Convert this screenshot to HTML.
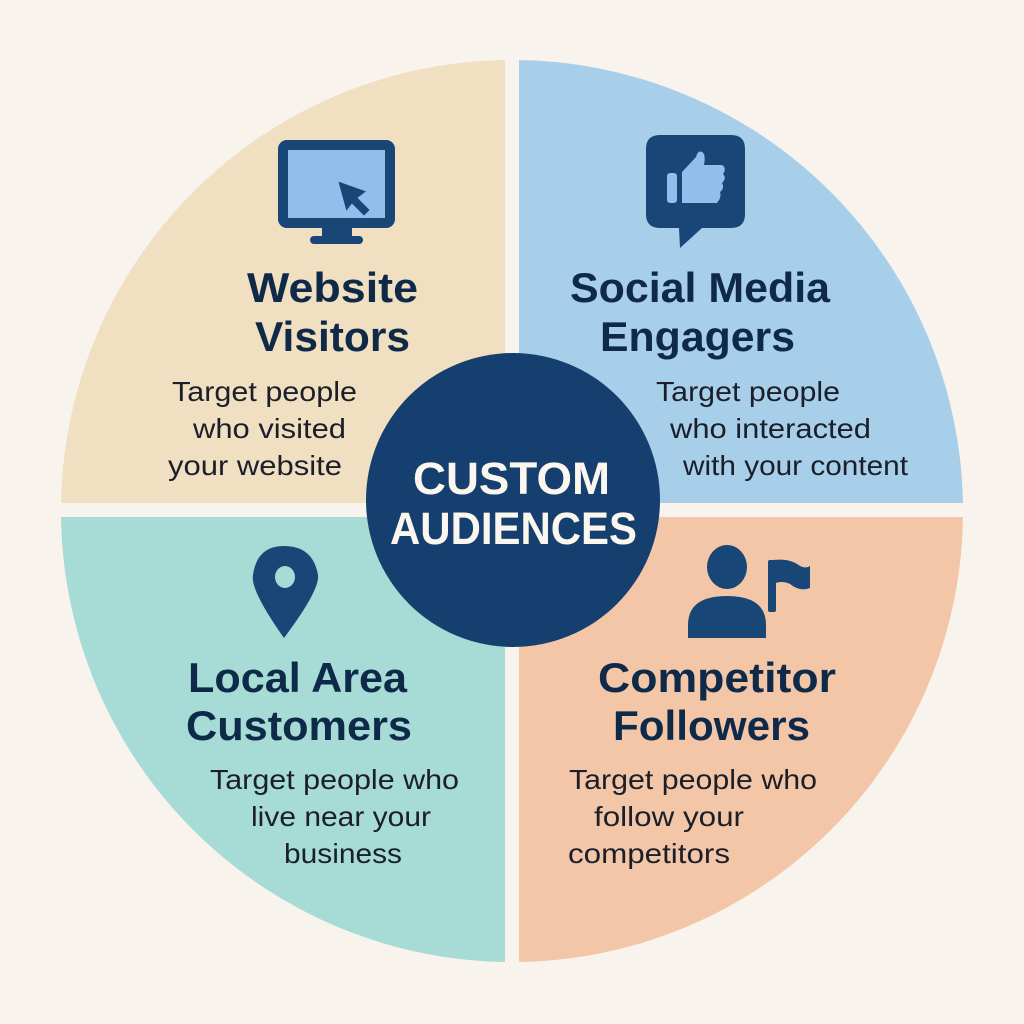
<!DOCTYPE html>
<html><head><meta charset="utf-8"><style>
html,body{margin:0;padding:0;background:#f8f3ec;}
svg{display:block}
.h{font-family:"Liberation Sans",sans-serif;font-weight:bold;font-size:42px;fill:#0f2a48}
.b{font-family:"Liberation Sans",sans-serif;font-size:28px;fill:#1a1f2a}
.c{font-family:"Liberation Sans",sans-serif;font-weight:bold;font-size:45px;fill:#fbf6ee}
</style></head><body>
<svg width="1024" height="1024" viewBox="0 0 1024 1024">
<rect width="1024" height="1024" fill="#f8f3ec"/>
<defs><clipPath id="cc"><circle cx="512" cy="511" r="451"/></clipPath></defs>
<g clip-path="url(#cc)">
<rect x="40" y="40" width="465" height="463" rx="6" fill="#f0dfc0"/>
<rect x="519" y="40" width="465" height="463" rx="6" fill="#a8cfe9"/>
<rect x="40" y="517" width="465" height="465" rx="6" fill="#a6dbd6"/>
<rect x="519" y="517" width="465" height="465" rx="6" fill="#f4c6a8"/>
</g>
<rect x="278" y="140" width="117" height="88" rx="9" fill="#174677"/>
<rect x="288" y="150" width="97" height="68" fill="#8fbfea"/>
<rect x="322" y="226" width="30" height="12" fill="#174677"/>
<rect x="310" y="236" width="53" height="8" rx="4" fill="#174677"/>
<path d="M337 180 L368 191 L359 198 L371 210 L364 217 L352 205 L346 213 Z" fill="#174677" stroke="#8fbfea" stroke-width="2"/>
<path d="M660 135 H731 Q745 135 745 149 V214 Q745 228 731 228 H702 L680 248 L679 228 H660 Q646 228 646 214 V149 Q646 135 660 135 Z" fill="#174677"/>
<rect x="667" y="173" width="10" height="30" rx="3" fill="#8fbfea"/>
<path d="M682 172 L696 157 Q698 150 702 152 Q706 154 704 165 L722 165 Q727 168 723 174 Q727 178 722 183 Q725 188 720 192 Q722 197 717 203 L682 203 Z" fill="#8fbfea"/>
<path d="M284 546 Q313 546 318 575 Q320 590 284 638 Q250 590 253 575 Q257 546 284 546 Z" fill="#174677"/>
<ellipse cx="285" cy="577" rx="10" ry="11" fill="#a6dbd6"/>
<ellipse cx="727" cy="567" rx="20" ry="22" fill="#174677"/>
<path d="M688 638 V625 Q688 596 727 596 Q766 596 766 625 V638 Z" fill="#174677"/>
<rect x="768" y="560" width="8" height="52" rx="2" fill="#174677"/>
<path d="M773 560 Q790 558 800 566 Q806 569 810 566 V588 Q800 592 790 584 Q782 580 773 584 Z" fill="#174677"/>
<g lengthAdjust="spacingAndGlyphs">
<text class="h" x="247" y="302" textLength="171" lengthAdjust="spacingAndGlyphs">Website</text>
<text class="h" x="255" y="351" textLength="155" lengthAdjust="spacingAndGlyphs">Visitors</text>
<text class="b" x="172" y="401" textLength="185" lengthAdjust="spacingAndGlyphs">Target people</text>
<text class="b" x="193" y="438" textLength="153" lengthAdjust="spacingAndGlyphs">who visited</text>
<text class="b" x="168" y="475" textLength="174" lengthAdjust="spacingAndGlyphs">your website</text>
<text class="h" x="570" y="302" textLength="260" lengthAdjust="spacingAndGlyphs">Social Media</text>
<text class="h" x="600" y="351" textLength="195" lengthAdjust="spacingAndGlyphs">Engagers</text>
<text class="b" x="656" y="401" textLength="184" lengthAdjust="spacingAndGlyphs">Target people</text>
<text class="b" x="670" y="438" textLength="201" lengthAdjust="spacingAndGlyphs">who interacted</text>
<text class="b" x="683" y="475" textLength="225" lengthAdjust="spacingAndGlyphs">with your content</text>
<text class="h" x="188" y="692" textLength="219" lengthAdjust="spacingAndGlyphs">Local Area</text>
<text class="h" x="186" y="740" textLength="226" lengthAdjust="spacingAndGlyphs">Customers</text>
<text class="b" x="210" y="789" textLength="249" lengthAdjust="spacingAndGlyphs">Target people who</text>
<text class="b" x="251" y="826" textLength="180" lengthAdjust="spacingAndGlyphs">live near your</text>
<text class="b" x="284" y="863" textLength="118" lengthAdjust="spacingAndGlyphs">business</text>
<text class="h" x="598" y="692" textLength="238" lengthAdjust="spacingAndGlyphs">Competitor</text>
<text class="h" x="613" y="740" textLength="197" lengthAdjust="spacingAndGlyphs">Followers</text>
<text class="b" x="569" y="789" textLength="248" lengthAdjust="spacingAndGlyphs">Target people who</text>
<text class="b" x="594" y="826" textLength="150" lengthAdjust="spacingAndGlyphs">follow your</text>
<text class="b" x="568" y="863" textLength="162" lengthAdjust="spacingAndGlyphs">competitors</text>
</g>
<circle cx="513" cy="500" r="147" fill="#143f6f"/>
<text class="c" x="413" y="494" textLength="197" lengthAdjust="spacingAndGlyphs">CUSTOM</text>
<text class="c" x="390" y="544" textLength="247" lengthAdjust="spacingAndGlyphs">AUDIENCES</text>
</svg>
</body></html>
